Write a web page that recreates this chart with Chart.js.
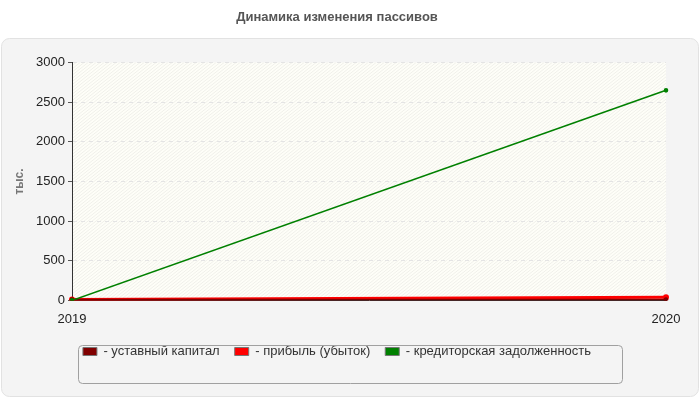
<!DOCTYPE html>
<html>
<head>
<meta charset="utf-8">
<script src="https://cdn.jsdelivr.net/npm/chart.js@4"></script>
<style>
  body { margin: 0; background: #fff; }
  #wrap { width: 700px; height: 400px; }
</style>
</head>
<body>
<div id="wrap"><canvas id="chart" width="700" height="400"></canvas></div>
<script>
const years = ["2019", "2020"];
const ustavCapital = [10, 10];
const profit = [10, 40];
const creditors = [0, 2650];
const seriesNames = ["уставный капитал", "прибыль (убыток)", "кредиторская задолженность"];
const seriesColors = ["#800000", "#ff0000", "#008000"];

// gray rounded panel + hatched plot background + legend frame
const decor = {
  id: "decor",
  beforeDraw(chart) {
    const c = chart.ctx, a = chart.chartArea;
    c.save();
    c.fillStyle = "#f4f4f4";
    c.strokeStyle = "#e2e2e2";
    c.beginPath();
    c.roundRect(1.5, 38.5, 697, 358, 8);
    c.fill(); c.stroke();
    c.fillStyle = "#fefef8";
    c.fillRect(a.left, a.top, a.right - a.left, a.bottom - a.top);
    c.beginPath();
    c.rect(a.left, a.top, a.right - a.left, a.bottom - a.top);
    c.clip();
    c.strokeStyle = "#f0f0ea";
    c.lineWidth = 1;
    for (let x = a.left - 300; x < a.right; x += 4) {
      c.beginPath();
      c.moveTo(x, a.bottom);
      c.lineTo(x + 300, a.top);
      c.stroke();
    }
    c.restore();
  },
  afterDraw(chart) {
    const c = chart.ctx;
    c.save();
    c.strokeStyle = "#a0a0a0";
    c.lineWidth = 1;
    c.beginPath();
    c.roundRect(78.5, 345.5, 544, 38, 4);
    c.stroke();
    c.restore();
  }
};

const mk = (i, data) => ({
  label: seriesNames[i],
  data: data,
  borderColor: seriesColors[i],
  backgroundColor: seriesColors[i],
  borderWidth: i === 1 ? 3 : 1.6,
  pointRadius: 1.5,
  pointHoverRadius: 2,
  tension: 0
});

new Chart(document.getElementById("chart"), {
  type: "line",
  data: {
    labels: years,
    datasets: [mk(2, creditors), mk(0, ustavCapital), mk(1, profit)]
  },
  plugins: [decor],
  options: {
    responsive: false,
    animation: false,
    layout: { padding: { left: 8, right: 34, top: 0, bottom: 32 } },
    plugins: {
      title: {
        display: true,
        text: "Динамика изменения пассивов",
        color: "#555",
        font: { family: "Arial, Liberation Sans", size: 13, weight: "bold" },
        padding: { top: 10, bottom: 37 }
      },
      legend: {
        position: "bottom",
        labels: {
          color: "#333",
          font: { family: "Arial, Liberation Sans", size: 13 },
          boxWidth: 14,
          boxHeight: 8,
          padding: 15,
          generateLabels(chart) {
            return [0, 1, 2].map(i => {
              const di = chart.data.datasets.findIndex(d => d.label === seriesNames[i]);
              return {
                text: "- " + seriesNames[i],
                fillStyle: seriesColors[i],
                strokeStyle: "#777",
                lineWidth: 1,
                datasetIndex: di,
                fontColor: "#333"
              };
            });
          }
        }
      },
      tooltip: { enabled: false }
    },
    scales: {
      x: {
        grid: { display: false, drawTicks: true },
        border: { color: "#333" },
        ticks: { color: "#222", font: { family: "Arial, Liberation Sans", size: 13 }, maxRotation: 0 }
      },
      y: {
        min: 0, max: 3000,
        afterFit(s) { s.width = 64; },
        title: { display: true, text: "тыс.", color: "#777", font: { family: "Arial, Liberation Sans", size: 12, weight: "bold" } },
        grid: { color: "#e4e4e4", tickColor: "#555", tickLength: 4, drawOnChartArea: true },
        border: { color: "#333", dash: [4, 4] },
        ticks: {
          stepSize: 500, color: "#222",
          font: { family: "Arial, Liberation Sans", size: 13 },
          callback: v => String(v)
        }
      }
    }
  }
});
</script>
</body>
</html>
